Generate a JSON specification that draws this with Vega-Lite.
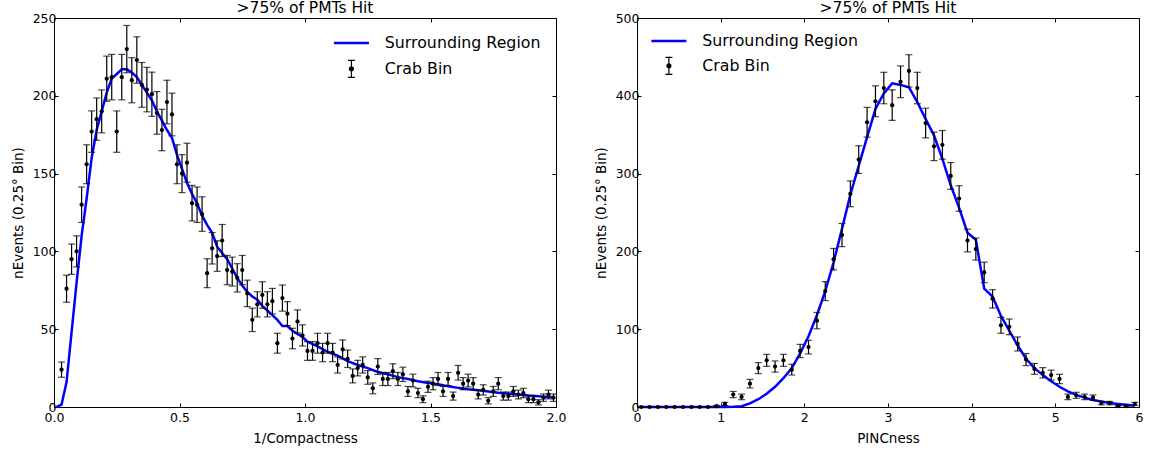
{
  "$schema": "https://vega.github.io/schema/vega-lite/v6.json",
  "padding": {"left": 10, "top": 0, "right": 0, "bottom": 0},
  "spacing": 26,
  "config": {
    "font": "DejaVu Sans",
    "view": {"stroke": "black", "strokeWidth": 1},
    "axis": {"domain": false, "grid": true, "gridColor": "#b8b8b8", "gridDash": [2, 3], "gridWidth": 0.8, "tickColor": "black", "tickSize": -4, "labelFontSize": 12.5, "labelColor": "black", "titleFontSize": 13.5, "titleFontWeight": "normal", "titleColor": "black", "labelFlush": false},
    "axisX": {"labelPadding": 8, "titlePadding": 8},
    "axisY": {"labelPadding": 2, "titlePadding": 7},
    "title": {"fontSize": 15.5, "fontWeight": "normal", "offset": -4, "color": "black"}
  },
  "datasets": {
    "lcrab": [
      {"x":0.03,"y":24,"e":4.9},{"x":0.05,"y":76,"e":8.7},{"x":0.07,"y":95,"e":9.7},{"x":0.09,"y":100,"e":10},{"x":0.11,"y":130,"e":11.4},
      {"x":0.13,"y":156,"e":12.5},{"x":0.15,"y":177,"e":13.3},{"x":0.17,"y":185,"e":13.6},{"x":0.19,"y":190,"e":13.8},{"x":0.21,"y":211,"e":14.5},
      {"x":0.23,"y":212,"e":14.6},{"x":0.25,"y":177,"e":13.3},{"x":0.27,"y":212,"e":14.6},{"x":0.29,"y":230,"e":15.2},{"x":0.31,"y":210,"e":14.5},
      {"x":0.33,"y":223,"e":14.9},{"x":0.35,"y":207,"e":14.4},{"x":0.37,"y":204,"e":14.3},{"x":0.39,"y":201,"e":14.2},{"x":0.41,"y":189,"e":13.7},
      {"x":0.43,"y":178,"e":13.3},{"x":0.45,"y":196,"e":14},{"x":0.47,"y":188,"e":13.7},{"x":0.49,"y":156,"e":12.5},{"x":0.51,"y":150,"e":12.2},
      {"x":0.53,"y":157,"e":12.5},{"x":0.55,"y":131,"e":11.4},{"x":0.57,"y":130,"e":11.4},{"x":0.59,"y":124,"e":11.1},{"x":0.61,"y":86,"e":9.3},
      {"x":0.63,"y":102,"e":10.1},{"x":0.65,"y":97,"e":9.8},{"x":0.67,"y":107,"e":10.3},{"x":0.69,"y":88,"e":9.4},{"x":0.71,"y":87,"e":9.3},
      {"x":0.73,"y":83,"e":9.1},{"x":0.75,"y":88,"e":9.4},{"x":0.77,"y":73,"e":8.5},{"x":0.79,"y":56,"e":7.5},{"x":0.81,"y":66,"e":8.1},
      {"x":0.83,"y":72,"e":8.5},{"x":0.85,"y":66,"e":8.1},{"x":0.87,"y":68,"e":8.2},{"x":0.89,"y":41,"e":6.4},{"x":0.91,"y":70,"e":8.4},
      {"x":0.93,"y":60,"e":7.7},{"x":0.95,"y":44,"e":6.6},{"x":0.97,"y":55,"e":7.4},{"x":0.99,"y":46,"e":6.8},{"x":1.01,"y":36,"e":6},
      {"x":1.03,"y":36,"e":6},{"x":1.05,"y":41,"e":6.4},{"x":1.07,"y":35,"e":5.9},{"x":1.09,"y":41,"e":6.4},{"x":1.11,"y":35,"e":5.9},
      {"x":1.13,"y":27,"e":5.2},{"x":1.15,"y":37,"e":6.1},{"x":1.17,"y":31,"e":5.6},{"x":1.19,"y":20,"e":4.5},{"x":1.21,"y":25,"e":5},
      {"x":1.23,"y":27,"e":5.2},{"x":1.25,"y":19,"e":4.4},{"x":1.27,"y":12,"e":3.5},{"x":1.29,"y":26,"e":5.1},{"x":1.31,"y":18,"e":4.2},
      {"x":1.33,"y":18,"e":4.2},{"x":1.35,"y":23,"e":4.8},{"x":1.37,"y":18,"e":4.2},{"x":1.39,"y":21,"e":4.6},{"x":1.41,"y":10,"e":3.2},
      {"x":1.43,"y":17,"e":4.1},{"x":1.45,"y":9,"e":3},{"x":1.47,"y":5,"e":2.2},{"x":1.49,"y":13,"e":3.6},{"x":1.51,"y":15,"e":3.9},
      {"x":1.53,"y":18,"e":4.2},{"x":1.55,"y":10,"e":3.2},{"x":1.57,"y":18,"e":4.2},{"x":1.59,"y":7,"e":2.6},{"x":1.61,"y":22,"e":4.7},
      {"x":1.63,"y":15,"e":3.9},{"x":1.65,"y":17,"e":4.1},{"x":1.67,"y":15,"e":3.9},{"x":1.69,"y":8,"e":2.8},{"x":1.71,"y":11,"e":3.3},
      {"x":1.73,"y":4,"e":2},{"x":1.75,"y":10,"e":3.2},{"x":1.77,"y":15,"e":3.9},{"x":1.79,"y":7,"e":2.6},{"x":1.81,"y":7,"e":2.6},
      {"x":1.83,"y":10,"e":3.2},{"x":1.85,"y":8,"e":2.8},{"x":1.87,"y":9,"e":3},{"x":1.89,"y":5,"e":2.2},{"x":1.91,"y":5,"e":2.2},
      {"x":1.93,"y":3,"e":1.7},{"x":1.95,"y":6,"e":2.4},{"x":1.97,"y":8,"e":2.8},{"x":1.99,"y":6,"e":2.4}
    ],
    "lline": [
      {"x":0.01,"y":0},{"x":0.03,"y":1.5},{"x":0.05,"y":16},{"x":0.07,"y":48},{"x":0.09,"y":80},{"x":0.11,"y":110},{"x":0.13,"y":134},
      {"x":0.15,"y":160},{"x":0.17,"y":178},{"x":0.19,"y":190},{"x":0.21,"y":202},{"x":0.23,"y":211},{"x":0.25,"y":214},{"x":0.27,"y":217},
      {"x":0.29,"y":217},{"x":0.31,"y":215},{"x":0.33,"y":212},{"x":0.35,"y":207},{"x":0.37,"y":202},{"x":0.39,"y":197},{"x":0.41,"y":190},
      {"x":0.43,"y":184},{"x":0.45,"y":178},{"x":0.47,"y":173},{"x":0.49,"y":162},{"x":0.51,"y":153},{"x":0.53,"y":144},{"x":0.55,"y":137},
      {"x":0.57,"y":131},{"x":0.59,"y":123},{"x":0.61,"y":117},{"x":0.63,"y":112},{"x":0.65,"y":103},{"x":0.67,"y":99},{"x":0.69,"y":95},
      {"x":0.71,"y":89},{"x":0.73,"y":83},{"x":0.75,"y":78},{"x":0.77,"y":74},{"x":0.79,"y":71},{"x":0.81,"y":69},{"x":0.83,"y":65},
      {"x":0.85,"y":62},{"x":0.87,"y":59},{"x":0.89,"y":56},{"x":0.91,"y":52},{"x":0.93,"y":52},{"x":0.95,"y":49},{"x":0.97,"y":47},
      {"x":0.99,"y":45},{"x":1.01,"y":42},{"x":1.05,"y":39},{"x":1.09,"y":35.5},{"x":1.13,"y":33},{"x":1.17,"y":29.5},{"x":1.21,"y":27},
      {"x":1.25,"y":25},{"x":1.29,"y":22.5},{"x":1.33,"y":21},{"x":1.37,"y":19.2},{"x":1.41,"y":18},{"x":1.45,"y":16.5},{"x":1.49,"y":15.4},
      {"x":1.53,"y":14.7},{"x":1.57,"y":13.4},{"x":1.61,"y":12.3},{"x":1.65,"y":11.4},{"x":1.69,"y":10.7},{"x":1.73,"y":10},{"x":1.77,"y":9.1},
      {"x":1.81,"y":8.5},{"x":1.85,"y":8},{"x":1.89,"y":7.4},{"x":1.93,"y":6.9},{"x":1.97,"y":6.4},{"x":1.99,"y":6.2}
    ],
    "rcrab": [
      {"x":0.05,"y":0,"e":0},{"x":0.15,"y":0,"e":0},{"x":0.25,"y":0,"e":0},{"x":0.35,"y":0,"e":0},{"x":0.45,"y":0,"e":0},
      {"x":0.55,"y":0,"e":0},{"x":0.65,"y":0,"e":0},{"x":0.75,"y":0,"e":0},{"x":0.85,"y":0,"e":0},{"x":0.95,"y":1,"e":1},
      {"x":1.05,"y":4,"e":2},{"x":1.15,"y":16,"e":4},{"x":1.25,"y":13,"e":3.6},{"x":1.35,"y":30,"e":5.5},{"x":1.45,"y":50,"e":7.1},
      {"x":1.55,"y":60,"e":7.7},{"x":1.65,"y":52,"e":7.2},{"x":1.75,"y":60,"e":7.7},{"x":1.85,"y":48,"e":6.9},{"x":1.95,"y":72,"e":8.5},
      {"x":2.05,"y":77,"e":8.8},{"x":2.15,"y":111,"e":10.5},{"x":2.25,"y":149,"e":12.2},{"x":2.35,"y":190,"e":13.8},{"x":2.45,"y":221,"e":14.9},
      {"x":2.55,"y":274,"e":16.6},{"x":2.65,"y":318,"e":17.8},{"x":2.75,"y":366,"e":19.1},{"x":2.85,"y":393,"e":19.8},{"x":2.95,"y":410,"e":20.2},
      {"x":3.05,"y":388,"e":19.7},{"x":3.15,"y":418,"e":20.4},{"x":3.25,"y":432,"e":20.8},{"x":3.35,"y":410,"e":20.2},{"x":3.45,"y":365,"e":19.1},
      {"x":3.55,"y":335,"e":18.3},{"x":3.65,"y":337,"e":18.4},{"x":3.75,"y":297,"e":17.2},{"x":3.85,"y":268,"e":16.4},{"x":3.95,"y":214,"e":14.6},
      {"x":4.05,"y":203,"e":14.2},{"x":4.15,"y":173,"e":13.2},{"x":4.25,"y":139,"e":11.8},{"x":4.35,"y":105,"e":10.2},{"x":4.45,"y":103,"e":10.1},
      {"x":4.55,"y":81,"e":9},{"x":4.65,"y":61,"e":7.8},{"x":4.75,"y":49,"e":7},{"x":4.85,"y":44,"e":6.6},{"x":4.95,"y":41,"e":6.4},
      {"x":5.05,"y":36,"e":6},{"x":5.15,"y":13,"e":3.6},{"x":5.25,"y":15,"e":3.9},{"x":5.35,"y":13,"e":3.6},{"x":5.45,"y":12,"e":3.5},
      {"x":5.55,"y":5,"e":2.2},{"x":5.65,"y":5,"e":2.2},{"x":5.75,"y":1,"e":1},{"x":5.85,"y":1,"e":1},{"x":5.95,"y":4,"e":2}
    ],
    "rline": [
      {"x":0.05,"y":0},{"x":0.25,"y":0},{"x":0.45,"y":0},{"x":0.65,"y":0},{"x":0.85,"y":0},{"x":1.05,"y":0},{"x":1.15,"y":0.3},
      {"x":1.25,"y":1},{"x":1.35,"y":4.7},{"x":1.45,"y":10},{"x":1.55,"y":17},{"x":1.65,"y":26},{"x":1.75,"y":37},{"x":1.85,"y":50},
      {"x":1.95,"y":69},{"x":2.05,"y":91},{"x":2.15,"y":118},{"x":2.25,"y":149},{"x":2.35,"y":186},{"x":2.45,"y":229},{"x":2.55,"y":273},
      {"x":2.65,"y":310},{"x":2.75,"y":347},{"x":2.85,"y":383},{"x":2.95,"y":403},{"x":3.05,"y":416},{"x":3.15,"y":414},{"x":3.25,"y":411},
      {"x":3.35,"y":392},{"x":3.45,"y":370},{"x":3.55,"y":349},{"x":3.65,"y":319},{"x":3.75,"y":285},{"x":3.85,"y":256},{"x":3.95,"y":224},
      {"x":4.05,"y":215},{"x":4.15,"y":152},{"x":4.25,"y":142},{"x":4.35,"y":117},{"x":4.45,"y":98},{"x":4.55,"y":79},{"x":4.65,"y":62},
      {"x":4.75,"y":50},{"x":4.85,"y":41},{"x":4.95,"y":33},{"x":5.05,"y":26},{"x":5.15,"y":20},{"x":5.25,"y":15.5},{"x":5.35,"y":12},
      {"x":5.45,"y":9},{"x":5.55,"y":7},{"x":5.65,"y":5},{"x":5.75,"y":4},{"x":5.85,"y":3},{"x":5.95,"y":1.7}
    ]
  },
  "hconcat": [
    {
      "width": 502, "height": 389,
      "title": ">75% of PMTs Hit",
      "layer": [
        {
          "data": {"name": "lline"},
          "mark": {"type": "line", "strokeWidth": 2.5},
          "encoding": {
            "x": {"field": "x", "type": "quantitative", "scale": {"domain": [0, 2], "nice": false}, "axis": {"orient": "top", "labels": false, "title": null, "grid": false, "values": [0, 0.5, 1, 1.5, 2]}},
            "y": {"field": "y", "type": "quantitative", "scale": {"domain": [0, 250], "nice": false}, "axis": {"orient": "right", "labels": false, "title": null, "grid": false, "values": [0, 50, 100, 150, 200, 250]}},
            "color": {"datum": "Surrounding Region", "scale": {"domain": ["Surrounding Region", "Crab Bin"], "range": ["#0000ff", "black"]},
              "legend": {"orient": "none", "legendX": 289.5, "legendY": 17, "title": null, "padding": 0, "labelFontSize": 15.8, "labelColor": "black", "symbolSize": 100, "labelOffset": 25.5, "rowPadding": 7,
                "encode": {"symbols": {"update": {
                  "shape": {"signal": "datum.value === 'Crab Bin' ? 'M0,-1.7L0,1.7M-0.7,-1.7L0.7,-1.7M-0.7,1.7L0.7,1.7M-0.4,0A0.4,0.4,0,1,0,0.4,0A0.4,0.4,0,1,0,-0.4,0Z' : 'M-3.5,0L3.5,0'"},
                  "fill": {"signal": "datum.value === 'Crab Bin' ? 'black' : 'transparent'"},
                  "stroke": {"signal": "datum.value === 'Crab Bin' ? 'black' : '#0000ff'"},
                  "strokeWidth": {"signal": "datum.value === 'Crab Bin' ? 1.2 : 2.5"},
                  "opacity": {"value": 1}
                }}}}
            }
          }
        },
        {
          "data": {"name": "lcrab"},
          "mark": {"type": "errorbar", "ticks": {"size": 7}, "thickness": 1.2, "color": "black"},
          "encoding": {
            "x": {"field": "x", "type": "quantitative", "title": "1/Compactness", "axis": {"values": [0, 0.5, 1, 1.5, 2], "format": ".1f"}},
            "y": {"field": "y", "type": "quantitative", "title": "nEvents (0.25° Bin)", "axis": {"values": [0, 50, 100, 150, 200, 250]}},
            "yError": {"field": "e"}
          }
        },
        {
          "data": {"name": "lcrab"},
          "mark": {"type": "point", "filled": true, "size": 18, "color": "black", "opacity": 1},
          "encoding": {
            "x": {"field": "x", "type": "quantitative", "axis": null},
            "y": {"field": "y", "type": "quantitative", "axis": null}
          }
        }
      ],
      "resolve": {"axis": {"x": "independent", "y": "independent"}}
    },
    {
      "width": 502, "height": 389,
      "title": ">75% of PMTs Hit",
      "layer": [
        {
          "data": {"name": "rline"},
          "mark": {"type": "line", "strokeWidth": 2.5},
          "encoding": {
            "x": {"field": "x", "type": "quantitative", "scale": {"domain": [0, 6], "nice": false}, "axis": {"orient": "top", "labels": false, "title": null, "grid": false, "values": [0, 1, 2, 3, 4, 5, 6]}},
            "y": {"field": "y", "type": "quantitative", "scale": {"domain": [0, 500], "nice": false}, "axis": {"orient": "right", "labels": false, "title": null, "grid": false, "values": [0, 100, 200, 300, 400, 500]}},
            "color": {"datum": "Surrounding Region", "scale": {"domain": ["Surrounding Region", "Crab Bin"], "range": ["#0000ff", "black"]},
              "legend": {"orient": "none", "legendX": 24, "legendY": 15, "title": null, "padding": 0, "labelFontSize": 15.8, "labelColor": "black", "symbolSize": 100, "labelOffset": 25.5, "rowPadding": 6,
                "encode": {"symbols": {"update": {
                  "shape": {"signal": "datum.value === 'Crab Bin' ? 'M0,-1.7L0,1.7M-0.7,-1.7L0.7,-1.7M-0.7,1.7L0.7,1.7M-0.4,0A0.4,0.4,0,1,0,0.4,0A0.4,0.4,0,1,0,-0.4,0Z' : 'M-3.5,0L3.5,0'"},
                  "fill": {"signal": "datum.value === 'Crab Bin' ? 'black' : 'transparent'"},
                  "stroke": {"signal": "datum.value === 'Crab Bin' ? 'black' : '#0000ff'"},
                  "strokeWidth": {"signal": "datum.value === 'Crab Bin' ? 1.2 : 2.5"},
                  "opacity": {"value": 1}
                }}}}
            }
          }
        },
        {
          "data": {"name": "rcrab"},
          "mark": {"type": "errorbar", "ticks": {"size": 7}, "thickness": 1.2, "color": "black"},
          "encoding": {
            "x": {"field": "x", "type": "quantitative", "title": "PINCness", "axis": {"values": [0, 1, 2, 3, 4, 5, 6], "format": "d"}},
            "y": {"field": "y", "type": "quantitative", "title": "nEvents (0.25° Bin)", "axis": {"values": [0, 100, 200, 300, 400, 500]}},
            "yError": {"field": "e"}
          }
        },
        {
          "data": {"name": "rcrab"},
          "mark": {"type": "point", "filled": true, "size": 18, "color": "black", "opacity": 1},
          "encoding": {
            "x": {"field": "x", "type": "quantitative", "axis": null},
            "y": {"field": "y", "type": "quantitative", "axis": null}
          }
        }
      ],
      "resolve": {"axis": {"x": "independent", "y": "independent"}}
    }
  ],
  "resolve": {"scale": {"color": "independent"}, "legend": {"color": "independent"}}
}
